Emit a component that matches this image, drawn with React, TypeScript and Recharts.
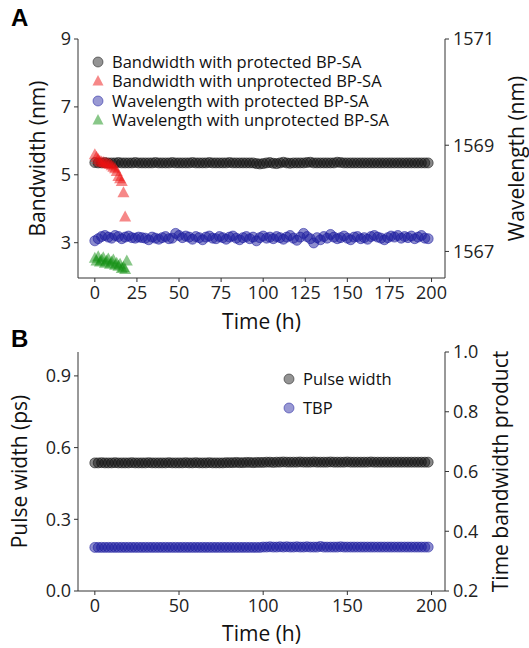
import { ScatterChart, Scatter, XAxis, YAxis, Legend } from 'recharts';

// sampling times (h) for the protected BP-SA runs
const hours = [
  0, 2, 4, 6, 8, 10, 12, 14, 16, 18, 20, 22, 24, 26, 28, 30, 32, 34, 36, 38,
  40, 42, 44, 46, 48, 50, 52, 54, 56, 58, 60, 62, 64, 66, 68, 70, 72, 74, 76, 78,
  80, 82, 84, 86, 88, 90, 92, 94, 96, 98, 100, 102, 104, 106, 108, 110, 112, 114, 116, 118,
  120, 122, 124, 126, 128, 130, 132, 134, 136, 138, 140, 142, 144, 146, 148, 150, 152, 154, 156, 158,
  160, 162, 164, 166, 168, 170, 172, 174, 176, 178, 180, 182, 184, 186, 188, 190, 192, 194, 196, 198,
];

const bandwidthProtected = [
  5.36, 5.35, 5.35, 5.36, 5.35, 5.35, 5.35, 5.36, 5.35, 5.35,
  5.35, 5.35, 5.36, 5.35, 5.35, 5.35, 5.35, 5.35, 5.36, 5.35,
  5.35, 5.35, 5.35, 5.36, 5.35, 5.35, 5.35, 5.35, 5.35, 5.36,
  5.35, 5.35, 5.35, 5.35, 5.36, 5.35, 5.35, 5.35, 5.35, 5.35,
  5.36, 5.35, 5.35, 5.35, 5.35, 5.35, 5.35, 5.35, 5.33, 5.32,
  5.33, 5.35, 5.36, 5.34, 5.33, 5.35, 5.37, 5.35, 5.34, 5.35,
  5.35, 5.35, 5.35, 5.36, 5.37, 5.35, 5.35, 5.35, 5.35, 5.35,
  5.35, 5.35, 5.37, 5.36, 5.35, 5.35, 5.35, 5.35, 5.35, 5.35,
  5.35, 5.35, 5.35, 5.35, 5.35, 5.35, 5.35, 5.35, 5.35, 5.35,
  5.35, 5.35, 5.35, 5.35, 5.35, 5.35, 5.35, 5.35, 5.35, 5.35,
];

const wavelengthProtected = [
  1567.20, 1567.24, 1567.28, 1567.30, 1567.27, 1567.25, 1567.30, 1567.28, 1567.24, 1567.27,
  1567.29, 1567.26, 1567.25, 1567.27, 1567.26, 1567.25, 1567.22, 1567.27, 1567.25, 1567.23,
  1567.26, 1567.28, 1567.24, 1567.25, 1567.34, 1567.30, 1567.26, 1567.29, 1567.27, 1567.23,
  1567.28, 1567.26, 1567.22, 1567.27, 1567.29, 1567.25, 1567.24, 1567.28, 1567.26, 1567.23,
  1567.27, 1567.29, 1567.25, 1567.22, 1567.26, 1567.28, 1567.24, 1567.27, 1567.20, 1567.26,
  1567.29, 1567.25, 1567.27, 1567.24, 1567.28, 1567.26, 1567.23, 1567.27, 1567.30, 1567.25,
  1567.21, 1567.27, 1567.34, 1567.28, 1567.24, 1567.16, 1567.26, 1567.22, 1567.28, 1567.25,
  1567.32, 1567.27, 1567.24, 1567.26, 1567.29, 1567.25, 1567.22, 1567.27, 1567.28, 1567.24,
  1567.26, 1567.23, 1567.28, 1567.30, 1567.27, 1567.25, 1567.22, 1567.26, 1567.29, 1567.27,
  1567.30, 1567.25, 1567.28, 1567.26, 1567.29, 1567.24, 1567.27, 1567.30, 1567.25, 1567.24,
];

// unprotected BP-SA, hourly until it fails
const hoursUnprotected = [0, 1, 2, 3, 4, 5, 6, 7, 8, 9, 10, 11, 12, 13, 14, 15, 16, 17, 18];
const bandwidthUnprotected = [
  5.59, 5.52, 5.45, 5.40, 5.38, 5.36, 5.35, 5.34, 5.32, 5.30,
  5.27, 5.22, 5.18, 5.10, 4.95, 4.88, 4.80, 4.47, 3.76,
];
const hoursUnprotectedWl = [0, 1, 2, 3, 4, 5, 6, 7, 8, 9, 10, 11, 12, 13, 14, 15, 16, 17, 18, 19];
const wavelengthUnprotected = [
  1566.87, 1566.82, 1566.90, 1566.80, 1566.84, 1566.88, 1566.78, 1566.82, 1566.86, 1566.76,
  1566.80, 1566.84, 1566.74, 1566.78, 1566.72, 1566.76, 1566.68, 1566.70, 1566.66, 1566.82,
];

const pulseWidth = [
  0.536, 0.536, 0.537, 0.536, 0.536, 0.536, 0.537, 0.536, 0.536, 0.536,
  0.536, 0.537, 0.536, 0.536, 0.536, 0.536, 0.537, 0.536, 0.536, 0.536,
  0.536, 0.536, 0.537, 0.536, 0.536, 0.536, 0.536, 0.537, 0.536, 0.536,
  0.537, 0.536, 0.536, 0.536, 0.537, 0.536, 0.536, 0.536, 0.536, 0.537,
  0.537, 0.537, 0.538, 0.537, 0.537, 0.538, 0.538, 0.537, 0.538, 0.538,
  0.538, 0.539, 0.539, 0.538, 0.539, 0.539, 0.540, 0.539, 0.539, 0.539,
  0.539, 0.540, 0.539, 0.539, 0.539, 0.540, 0.539, 0.539, 0.539, 0.539,
  0.540, 0.539, 0.539, 0.539, 0.539, 0.540, 0.539, 0.539, 0.539, 0.539,
  0.539, 0.539, 0.540, 0.539, 0.539, 0.539, 0.539, 0.539, 0.539, 0.539,
  0.539, 0.539, 0.539, 0.539, 0.539, 0.539, 0.539, 0.539, 0.539, 0.539,
];

const tbp = [
  0.346, 0.346, 0.346, 0.346, 0.346, 0.346, 0.346, 0.346, 0.346, 0.346,
  0.346, 0.346, 0.346, 0.346, 0.346, 0.346, 0.346, 0.346, 0.346, 0.346,
  0.346, 0.346, 0.346, 0.346, 0.346, 0.346, 0.346, 0.346, 0.346, 0.346,
  0.346, 0.346, 0.346, 0.346, 0.346, 0.346, 0.346, 0.346, 0.346, 0.346,
  0.346, 0.346, 0.346, 0.346, 0.346, 0.346, 0.346, 0.346, 0.346, 0.346,
  0.347, 0.347, 0.348, 0.347, 0.347, 0.348, 0.347, 0.348, 0.347, 0.347,
  0.348, 0.347, 0.347, 0.348, 0.347, 0.347, 0.347, 0.349, 0.347, 0.347,
  0.347, 0.347, 0.347, 0.348, 0.347, 0.347, 0.347, 0.347, 0.347, 0.347,
  0.347, 0.347, 0.347, 0.347, 0.347, 0.347, 0.347, 0.347, 0.347, 0.347,
  0.347, 0.347, 0.347, 0.347, 0.347, 0.347, 0.347, 0.347, 0.347, 0.347,
];

const ticksA = [0, 25, 50, 75, 100, 125, 150, 175, 200];
const ticksB = [0, 50, 100, 150, 200];
const bandwidthTicks = [3, 5, 7, 9];
const wavelengthTicks = [1567, 1569, 1571];
const pulseTicks = [0, 0.3, 0.6, 0.9];
const tbpTicks = [0.2, 0.4, 0.6, 0.8, 1.0];

const legendA = [
  { name: 'Bandwidth with protected BP-SA', color: '#111111', shape: 'circle' },
  { name: 'Bandwidth with unprotected BP-SA', color: '#ee1111', shape: 'triangle' },
  { name: 'Wavelength with protected BP-SA', color: '#1c1c9e', shape: 'circle' },
  { name: 'Wavelength with unprotected BP-SA', color: '#119011', shape: 'triangle' },
];
const legendB = [
  { name: 'Pulse width', color: '#111111', shape: 'circle' },
  { name: 'TBP', color: '#1c1c9e', shape: 'circle' },
];

const pair = (xs: number[], ys: number[]) => xs.map((x, i) => ({ x, y: ys[i] }));

const FONT = '"Open Sans", sans-serif';
const AXIS = '#333';
const tickStyle = { fontSize: 18, fill: '#222', fontFamily: FONT };

const circleShape = (color: string) => (p: any) => (
  <circle cx={p.cx} cy={p.cy} r={5} fill={color} fillOpacity={0.5} stroke={color} strokeOpacity={0.55} strokeWidth={1} />
);
const triangleShape = (color: string) => (p: any) => (
  <polygon
    points={`${p.cx},${p.cy - 6.5} ${p.cx - 6},${p.cy + 4.5} ${p.cx + 6},${p.cy + 4.5}`}
    fill={color}
    fillOpacity={0.5}
  />
);

function LegendBox({ items, gap }: { items: typeof legendA; gap: number }) {
  return (
    <div style={{ fontFamily: FONT, fontSize: 16.5, color: '#111', lineHeight: '16px' }}>
      {items.map((it) => (
        <div key={it.name} style={{ display: 'flex', alignItems: 'center', height: gap, whiteSpace: 'nowrap' }}>
          <svg width={13} height={12} style={{ marginRight: 7 }}>
            {it.shape === 'circle' ? (
              <circle cx={6} cy={6} r={5} fill={it.color} fillOpacity={0.45} stroke={it.color} strokeOpacity={0.5} />
            ) : (
              <polygon points="6,0 0.5,10.5 11.5,10.5" fill={it.color} fillOpacity={0.5} />
            )}
          </svg>
          <span>{it.name}</span>
        </div>
      ))}
    </div>
  );
}

const vTitle = (text: string, x: number) => (p: any) => {
  const vb = p.viewBox;
  const cy = vb.y + vb.height / 2;
  return (
    <text x={x} y={cy} transform={`rotate(-90, ${x}, ${cy})`} textAnchor="middle" dominantBaseline="central"
      fontSize={21} fontFamily={FONT} fill="#111">
      {text}
    </text>
  );
};
const xTitle = (dy: number) => (p: any) => {
  const vb = p.viewBox;
  return (
    <text x={vb.x + vb.width / 2} y={vb.y + dy} textAnchor="middle" dominantBaseline="central"
      fontSize={21} fontFamily={FONT} fill="#111">
      Time (h)
    </text>
  );
};

const panelLabel = (text: string, top: number) => (
  <div style={{ position: 'absolute', left: 11, top, fontFamily: 'Arial, "Liberation Sans", sans-serif', fontWeight: 'bold', fontSize: 24 }}>
    {text}
  </div>
);

export default function App() {
  return (
    <div style={{ position: 'absolute', left: 0, top: 0, width: 529, height: 648, background: '#fff' }}>
      {panelLabel('A', 4)}
      {panelLabel('B', 325)}
      <div style={{ position: 'absolute', left: 0, top: 0 }}>
        <ScatterChart width={529} height={342} margin={{ top: 39, right: 0, bottom: 0, left: 0 }}>
          <XAxis xAxisId="top" orientation="top" type="number" dataKey="x" domain={[-10, 208]} height={0}
            tick={false} tickLine={false} stroke={AXIS} allowDataOverflow />
          <XAxis type="number" dataKey="x" domain={[-10, 208]} ticks={ticksA} height={64} stroke={AXIS}
            tickSize={4} tickMargin={4} tick={tickStyle} allowDataOverflow label={{ content: xTitle(43) }} />
          <YAxis yAxisId="bw" type="number" dataKey="y" domain={[1.96, 9]} ticks={bandwidthTicks} width={78}
            stroke={AXIS} tickSize={4} tickMargin={3} tick={tickStyle} allowDataOverflow
            label={{ content: vTitle('Bandwidth (nm)', 37) }} />
          <YAxis yAxisId="wl" orientation="right" type="number" dataKey="y" domain={[1566.5, 1571]} ticks={wavelengthTicks}
            width={84} stroke={AXIS} tickSize={4} tickMargin={4} tick={tickStyle} allowDataOverflow
            label={{ content: vTitle('Wavelength (nm)', 516) }} />
          <Scatter yAxisId="bw" data={pair(hours, bandwidthProtected)} shape={circleShape(legendA[0].color)} isAnimationActive={false} />
          <Scatter yAxisId="bw" data={pair(hoursUnprotected, bandwidthUnprotected)} shape={triangleShape(legendA[1].color)} isAnimationActive={false} />
          <Scatter yAxisId="wl" data={pair(hours, wavelengthProtected)} shape={circleShape(legendA[2].color)} isAnimationActive={false} />
          <Scatter yAxisId="wl" data={pair(hoursUnprotectedWl, wavelengthUnprotected)} shape={triangleShape(legendA[3].color)} isAnimationActive={false} />
          <Legend layout="vertical" align="center" verticalAlign="middle"
            wrapperStyle={{ top: 52, left: 92, width: 360 }}
            content={() => <LegendBox items={legendA} gap={19.5} />} />
        </ScatterChart>
      </div>
      <div style={{ position: 'absolute', left: 0, top: 330 }}>
        <ScatterChart width={529} height={318} margin={{ top: 22, right: 0, bottom: 0, left: 0 }}>
          <XAxis xAxisId="top" orientation="top" type="number" dataKey="x" domain={[-10, 208]} height={0}
            tick={false} tickLine={false} stroke={AXIS} allowDataOverflow />
          <XAxis type="number" dataKey="x" domain={[-10, 208]} ticks={ticksB} height={57} stroke={AXIS}
            tickSize={4} tickMargin={4} tick={tickStyle} allowDataOverflow label={{ content: xTitle(42) }} />
          <YAxis yAxisId="pw" type="number" dataKey="y" domain={[0, 1]} ticks={pulseTicks} width={78}
            stroke={AXIS} tickSize={4} tickMargin={3} tick={tickStyle} tickFormatter={(v: number) => v.toFixed(1)}
            allowDataOverflow label={{ content: vTitle('Pulse width (ps)', 19) }} />
          <YAxis yAxisId="tbp" orientation="right" type="number" dataKey="y" domain={[0.2, 1]} ticks={tbpTicks}
            width={84} stroke={AXIS} tickSize={4} tickMargin={4} tick={tickStyle} tickFormatter={(v: number) => v.toFixed(1)}
            allowDataOverflow label={{ content: vTitle('Time bandwidth product', 500) }} />
          <Scatter yAxisId="pw" data={pair(hours, pulseWidth)} shape={circleShape(legendB[0].color)} isAnimationActive={false} />
          <Scatter yAxisId="tbp" data={pair(hours, tbp)} shape={circleShape(legendB[1].color)} isAnimationActive={false} />
          <Legend layout="vertical" align="center" verticalAlign="middle"
            wrapperStyle={{ top: 34, left: 283, width: 160 }}
            content={() => <LegendBox items={legendB} gap={29} />} />
        </ScatterChart>
      </div>
    </div>
  );
}
